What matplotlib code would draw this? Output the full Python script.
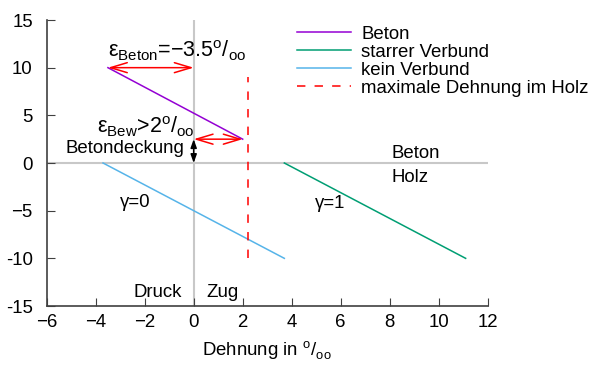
import matplotlib.pyplot as plt

plt.rcParams['font.family'] = ['Liberation Sans', 'DejaVu Sans']
plt.rcParams['mathtext.fontset'] = 'custom'
plt.rcParams['mathtext.rm'] = 'Liberation Sans'

# data (Dehnung in o/oo, Hoehe)
beton_x = [-3.5, 2.0]
beton_y = [10, 2.5]
starr_x = [3.7, 11.1]
starr_y = [0, -10]
kein_x = [-3.7, 3.7]
kein_y = [0, -10]
dehn_x = [2.2, 2.2]
dehn_y = [-10, 9]

xticks = [-6, -4, -2, 0, 2, 4, 6, 8, 10, 12]
xtick_labels = ['\u22126', '\u22124', '\u22122', '0', '2', '4', '6', '8', '10', '12']
yticks = [-15, -10, -5, 0, 5, 10, 15]
ytick_labels = ['-15', '-10', '\u22125', '0', '5', '10', '15']

fig = plt.figure(figsize=(5.97, 3.67), dpi=100)
ax = fig.add_axes([0.0782, 0.1662, 0.7387, 0.7793])

# achsenkreuz
ax.plot([-6, 12], [0, 0], color='#c8c8c8', lw=1.5, zorder=1)
ax.plot([0, 0], [-15, 15], color='#c8c8c8', lw=1.5, zorder=1)

ax.plot(beton_x, beton_y, color='#9400d3', lw=1.1, label='Beton')
ax.plot(starr_x, starr_y, color='#009e73', lw=1.1, label='starrer Verbund')
ax.plot(kein_x, kein_y, color='#56b4e9', lw=1.1, label='kein Verbund')
ax.plot(dehn_x, dehn_y, color='red', lw=1.1, ls=(0, (5.5, 6)), label='maximale Dehnung im Holz')

# pfeile
red_arrow = dict(arrowstyle='<->,head_length=1.2,head_width=0.36', color='red', lw=1.1,
                 shrinkA=0, shrinkB=0)
ax.annotate('', xy=(beton_x[0], beton_y[0]), xytext=(0, beton_y[0]), arrowprops=red_arrow)
ax.annotate('', xy=(0, beton_y[1]), xytext=(beton_x[1], beton_y[1]), arrowprops=red_arrow)
ax.annotate('', xy=(0, 0), xytext=(0, beton_y[1]),
            arrowprops=dict(arrowstyle='<|-|>,head_length=0.5,head_width=0.18', color='black',
                            lw=1.1, shrinkA=0, shrinkB=0))

fs = 13.4
fs_eps = 15.5
ax.text(-3.5, 11.1, 'ε$_\\mathregular{Beton}$=\u22123.5$^\\mathregular{o}$/$_\\mathregular{oo}$',
        fontsize=fs_eps, ha='left', va='baseline')
ax.text(-3.96, 3.15, 'ε$_\\mathregular{Bew}$>2$^\\mathregular{o}$/$_\\mathregular{oo}$',
        fontsize=fs_eps, ha='left', va='baseline')
ax.text(-0.4, 1.05, 'Betondeckung', fontsize=fs, ha='right', va='baseline')
ax.text(-3.0, -4.6, 'γ=0', fontsize=fs, ha='left', va='baseline')
ax.text(4.95, -4.7, 'γ=1', fontsize=fs, ha='left', va='baseline')
ax.text(8.08, 0.5, 'Beton', fontsize=fs, ha='left', va='baseline')
ax.text(8.08, -1.95, 'Holz', fontsize=fs, ha='left', va='baseline')
ax.text(-0.49, -14.05, 'Druck', fontsize=fs, ha='right', va='baseline')
ax.text(0.5, -14.05, 'Zug', fontsize=fs, ha='left', va='baseline')

ax.set_xlim(-6, 12)
ax.set_ylim(-15, 15)
ax.set_xticks(xticks)
ax.set_xticklabels(xtick_labels)
ax.set_yticks(yticks)
ax.set_yticklabels(ytick_labels)
ax.tick_params(direction='in', length=6, labelsize=fs, color='#404040')
ax.tick_params(axis='x', pad=6)
ax.tick_params(axis='y', pad=10)
for s in ['top', 'right']:
    ax.spines[s].set_visible(False)
for s in ['left', 'bottom']:
    ax.spines[s].set_color('#404040')
    ax.spines[s].set_linewidth(1.2)
ax.set_xlabel('Dehnung in $^\\mathregular{o}$/$_\\mathregular{oo}$', fontsize=fs, labelpad=6)

ax.legend(loc='upper left', bbox_to_anchor=(0.5676, 0.98), frameon=False, fontsize=fs,
          handlelength=2.9, handletextpad=0.55, labelspacing=0.05, borderaxespad=0,
          borderpad=0)

fig.savefig('out.png', dpi=100)
